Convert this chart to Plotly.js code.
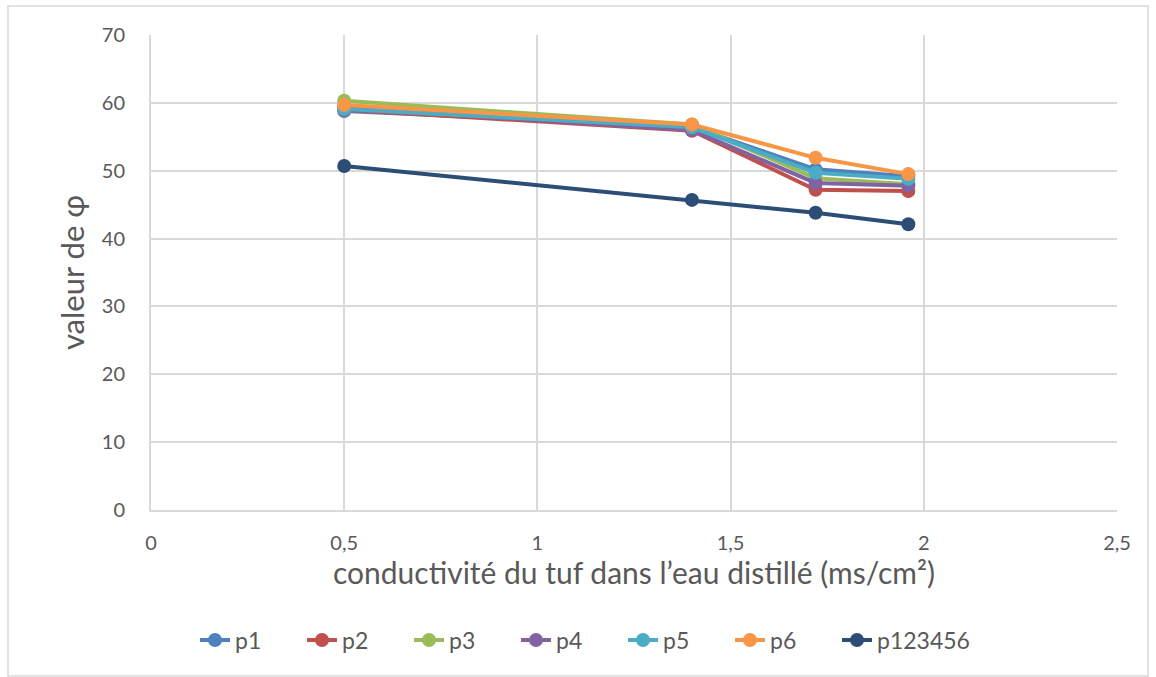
<!DOCTYPE html>
<html>
<head>
<meta charset="utf-8">
<script src="https://cdn.plot.ly/plotly-3.0.1.min.js"></script>
<style>
html,body{margin:0;padding:0;background:#fff;}
#chart{width:1156px;height:677px;}
</style>
</head>
<body>
<div id="chart"></div>
<script>
var xValues = [0.5, 1.4, 1.72, 1.96];
var seriesNames = ["p1", "p2", "p3", "p4", "p5", "p6", "p123456"];
var p1 = [58.8, 56.5, 50.2, 49.2];
var p2 = [59.0, 55.9, 47.2, 47.0];
var p3 = [60.3, 56.8, 48.9, 48.0];
var p4 = [59.3, 56.0, 48.2, 47.8];
var p5 = [59.1, 56.4, 49.7, 48.8];
var p6 = [59.7, 56.8, 51.9, 49.5];
var p123456 = [50.7, 45.7, 43.8, 42.1];
var seriesColors = ["#4f81bd", "#c0504d", "#9bbb59", "#8064a2", "#4bacc6", "#f79646", "#2c4d75"];
var xTickVals = [0, 0.5, 1, 1.5, 2, 2.5];
var xTickText = ["0", "0,5", "1", "1,5", "2", "2,5"];
var yTickVals = [0, 10, 20, 30, 40, 50, 60, 70];

var allSeries = [p1, p2, p3, p4, p5, p6, p123456];
var traces = allSeries.map(function (ys, i) {
  return {
    x: xValues, y: ys, name: seriesNames[i], type: "scatter", mode: "lines+markers",
    line: {color: seriesColors[i], width: 4},
    marker: {color: seriesColors[i], size: 14},
    legend: i === allSeries.length - 1 ? "legend2" : "legend"
  };
});

var W = 1156, H = 677;
var m = {l: 151, r: 39, t: 35, b: 167};
var pw = W - m.l - m.r, ph = H - m.t - m.b;
function px2x(p) { return (p - m.l) / pw; }
function py2y(p) { return (H - m.b - p) / ph; }

var font = "Lato, Carlito, Calibri, sans-serif";
var legendFont = {size: 23, color: "#595959"};
var layout = {
  width: W, height: H,
  margin: m,
  paper_bgcolor: "#fff", plot_bgcolor: "#fff",
  separators: ",.",
  font: {family: font, color: "#595959", size: 20},
  showlegend: true,
  legend: {orientation: "h", x: px2x(195), xanchor: "left", y: py2y(640), yanchor: "middle",
           font: legendFont, tracegroupgap: 0, entrywidth: 62, entrywidthmode: "pixels"},
  legend2: {orientation: "h", x: px2x(837), xanchor: "left", y: py2y(640), yanchor: "middle",
           font: legendFont, tracegroupgap: 0},
  xaxis: {range: [0, 2.5], tickvals: xTickVals, ticktext: xTickText, showgrid: true,
          gridcolor: "#d9d9d9", gridwidth: 2, zeroline: false, showline: true, linecolor: "#d9d9d9", linewidth: 2,
          ticks: "", ticklabelstandoff: 14, tickfont: {size: 20, color: "#595959"},
          title: {text: "conductivité du tuf dans l’eau distillé (ms/cm²)", font: {size: 30, color: "#595959"}, standoff: 0}},
  yaxis: {range: [0, 70], tickvals: yTickVals, showgrid: true, gridcolor: "#d9d9d9", gridwidth: 2,
          zeroline: false, showline: true, linecolor: "#d9d9d9", linewidth: 2, ticks: "",
          ticklabelstandoff: 20, tickfont: {size: 20, color: "#595959"},
          title: {text: "valeur de φ", font: {size: 31, color: "#595959"}, standoff: 8}},
  shapes: [{type: "rect", xref: "paper", yref: "paper", x0: px2x(8), x1: px2x(1148), y0: py2y(676), y1: py2y(6),
            line: {color: "#d9d9d9", width: 1.5}, fillcolor: "rgba(0,0,0,0)", layer: "below"}]
};

Plotly.newPlot("chart", traces, layout, {displayModeBar: false, staticPlot: true});
</script>
</body>
</html>
